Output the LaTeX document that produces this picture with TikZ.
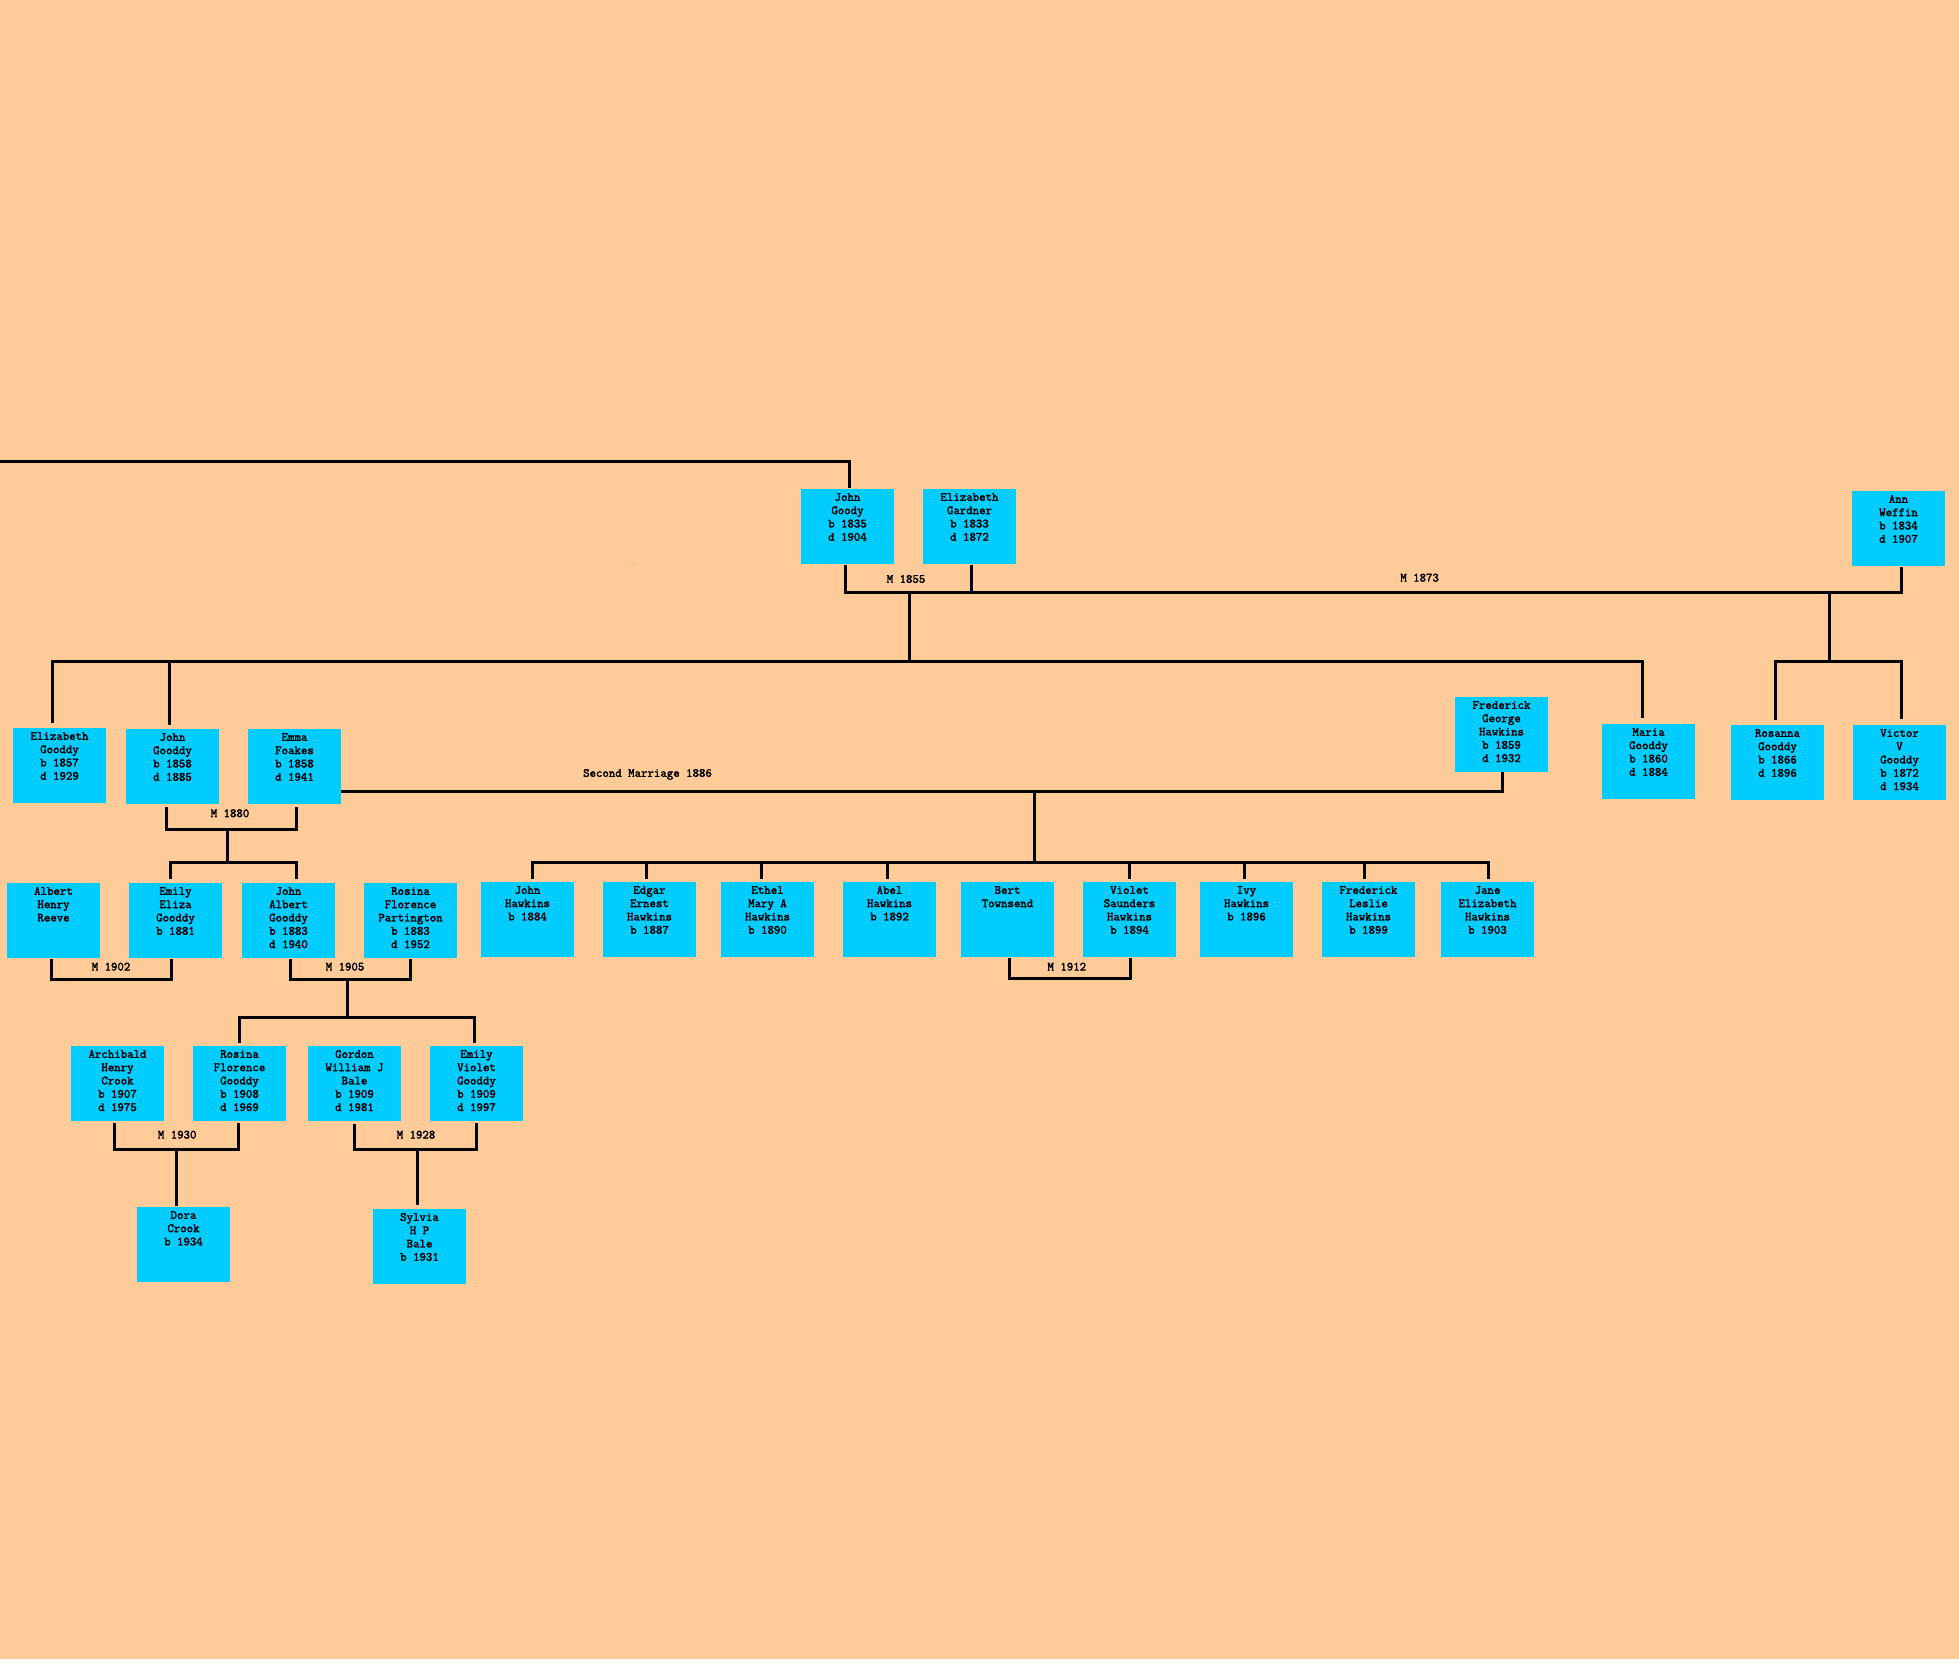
\documentclass[tikz,border=0pt]{standalone}
\usepackage{fontspec}
\newfontfamily\pfam{Latin Modern Mono}[FakeBold=2.2]
\usetikzlibrary{calc}
\definecolor{peach}{RGB}{255,204,153}
\definecolor{boxcyan}{RGB}{0,204,255}
\newcommand\pfont{\pfam\fontsize{12.5}{13.3}\selectfont}
\newcommand\pbox[1]{\parbox[t][74.5pt][t]{93pt}{\centering\vspace*{2.5pt}\strut#1\par}}
\tikzset{
  person/.style={fill=boxcyan, anchor=north west, inner sep=0pt, outer sep=0pt, font=\pfont},
  conn/.style={line width=3pt, line join=miter},
  mlabel/.style={anchor=base, inner sep=0pt, font=\pfont},
}
\begin{document}
\begin{tikzpicture}[x=1pt,y=-1pt]
\useasboundingbox (0,0) rectangle (1959,1666);
\fill[white] (0,0) rectangle (1959,1666);
\fill[peach] (0,0) rectangle (1959,1659);
\fill[boxcyan] (632.8,562.6) rectangle (634.2,564);

% row 1
\node[person] (jg) at (801,489) {\pbox{John\\Goody\\b 1835\\d 1904}};
\node[person] (eg) at (923,489) {\pbox{Elizabeth\\Gardner\\b 1833\\d 1872}};
\node[person] (aw) at (1852,491) {\pbox{Ann\\Weffin\\b 1834\\d 1907}};
% row 2
\node[person] (elg) at (13,728) {\pbox{Elizabeth\\Gooddy\\b 1857\\d 1929}};
\node[person] (jgy) at (126,729) {\pbox{John\\Gooddy\\b 1858\\d 1885}};
\node[person] (ef) at (248,729) {\pbox{Emma\\Foakes\\b 1858\\d 1941}};
\node[person] (fgh) at (1455,697) {\pbox{Frederick\\George\\Hawkins\\b 1859\\d 1932}};
\node[person] (mg) at (1602,724) {\pbox{Maria\\Gooddy\\b 1860\\d 1884}};
\node[person] (rg) at (1731,725) {\pbox{Rosanna\\Gooddy\\b 1866\\d 1896}};
\node[person] (vg) at (1853,725) {\pbox{Victor\\V\\Gooddy\\b 1872\\d 1934}};
% row 3
\node[person] (ahr) at (7,883) {\pbox{Albert\\Henry\\Reeve}};
\node[person] (eeg) at (129,883) {\pbox{Emily\\Eliza\\Gooddy\\b 1881}};
\node[person] (jag) at (242,883) {\pbox{John\\Albert\\Gooddy\\b 1883\\d 1940}};
\node[person] (rfp) at (364,883) {\pbox{Rosina\\Florence\\Partington\\b 1883\\d 1952}};
\node[person] (jh) at (481,882) {\pbox{John\\Hawkins\\b 1884}};
\node[person] (eeh) at (603,882) {\pbox{Edgar\\Ernest\\Hawkins\\b 1887}};
\node[person] (emh) at (721,882) {\pbox{Ethel\\Mary A\\Hawkins\\b 1890}};
\node[person] (ah) at (843,882) {\pbox{Abel\\Hawkins\\b 1892}};
\node[person] (bt) at (961,882) {\pbox{Bert\\Townsend}};
\node[person] (vsh) at (1083,882) {\pbox{Violet\\Saunders\\Hawkins\\b 1894}};
\node[person] (ih) at (1200,882) {\pbox{Ivy\\Hawkins\\b 1896}};
\node[person] (flh) at (1322,882) {\pbox{Frederick\\Leslie\\Hawkins\\b 1899}};
\node[person] (jeh) at (1441,882) {\pbox{Jane\\Elizabeth\\Hawkins\\b 1903}};
% row 4
\node[person] (ahc) at (71,1046) {\pbox{Archibald\\Henry\\Crook\\b 1907\\d 1975}};
\node[person] (rfg) at (193,1046) {\pbox{Rosina\\Florence\\Gooddy\\b 1908\\d 1969}};
\node[person] (gwb) at (308,1046) {\pbox{Gordon\\William J\\Bale\\b 1909\\d 1981}};
\node[person] (evg) at (430,1046) {\pbox{Emily\\Violet\\Gooddy\\b 1909\\d 1997}};
% row 5
\node[person] (dc) at (137,1207) {\pbox{Dora\\Crook\\b 1934}};
\node[person] (shb) at (373,1209) {\pbox{Sylvia\\H P\\Bale\\b 1931}};

% labels
\node[mlabel] (l55) at (906,582.8) {M 1855};
\node[mlabel] (l73) at (1419.6,581.5) {M 1873};
\node[mlabel] (l86) at (647.5,776.8) {Second Marriage 1886};
\node[mlabel] (l80) at (230,817.1) {M 1880};
\node[mlabel] (l02) at (111,970.5) {M 1902};
\node[mlabel] (l05) at (345,970.5) {M 1905};
\node[mlabel] (l12) at (1066.8,970.5) {M 1912};
\node[mlabel] (l30) at (177.2,1138.5) {M 1930};
\node[mlabel] (l28) at (416,1138.5) {M 1928};

% coordinates
\coordinate (topL) at (0,461.7);
\coordinate (jg-t) at ($(jg.north)+(2,-1)$);
\coordinate (jg-b) at ($(jg.south)+(-2,1.5)$);
\coordinate (eg-b) at ($(eg.south)+(2,1.5)$);
\coordinate (aw-b) at ($(aw.south)+(3,1.2)$);
\coordinate (j55) at (909,592);
\coordinate (c55) at (909,661);
\coordinate (j73) at (1829.4,592);
\coordinate (c73) at (1829.4,661);
\coordinate (elg-t) at ($(elg.north)+(-7,-5)$);
\coordinate (jgy-t) at ($(jgy.north)+(-3.5,-4)$);
\coordinate (mg-t) at ($(mg.north)+(-6.5,-6)$);
\coordinate (rg-t) at ($(rg.north)+(-2,-5)$);
\coordinate (vg-t) at ($(vg.north)+(2,-6)$);
\coordinate (jgy-b) at ($(jgy.south)+(-6.5,3)$);
\coordinate (ef-b) at ($(ef.south)+(2.2,3)$);
\coordinate (j80) at (227,829);
\coordinate (c80) at (227,862);
\coordinate (eeg-t) at ($(eeg.north)+(-5.5,-4)$);
\coordinate (jag-t) at ($(jag.north)+(8,-4)$);
\coordinate (sm-s) at ($(ef.south east)+(0,-12.5)$);
\coordinate (fgh-b) at ($(fgh.south)+(1.2,0.5)$);
\coordinate (j86) at (1034.7,791);
\coordinate (c86) at (1034.7,862);
\coordinate (jh-t) at ($(jh.north)+(4.5,-3)$);
\coordinate (eeh-t) at ($(eeh.north)+(-3,-3)$);
\coordinate (emh-t) at ($(emh.north)+(-6,-3)$);
\coordinate (ah-t) at ($(ah.north)+(-2,-3)$);
\coordinate (vsh-t) at ($(vsh.north)+(0,-3)$);
\coordinate (ih-t) at ($(ih.north)+(-2.5,-3)$);
\coordinate (flh-t) at ($(flh.north)+(-4,-3)$);
\coordinate (jeh-t) at ($(jeh.north)+(1,-3)$);
\coordinate (ahr-b) at ($(ahr.south)+(-2.5,1)$);
\coordinate (eeg-b) at ($(eeg.south)+(-4,1)$);
\coordinate (m02) at (111,979);
\coordinate (jag-b) at ($(jag.south)+(1.5,1.5)$);
\coordinate (rfp-b) at ($(rfp.south)+(0,1.5)$);
\coordinate (j05) at (347.5,979);
\coordinate (c05) at (347.5,1017);
\coordinate (rfg-t) at ($(rfg.north)+(0,-3)$);
\coordinate (evg-t) at ($(evg.north)+(-2,-3)$);
\coordinate (bt-b) at ($(bt.south)+(2,1.5)$);
\coordinate (vsh-b) at ($(vsh.south)+(0.5,1.5)$);
\coordinate (m12) at (1070,978.7);
\coordinate (ahc-b) at ($(ahc.south)+(-3.5,2)$);
\coordinate (rfg-b) at ($(rfg.south)+(-1.5,2)$);
\coordinate (j30) at (176.4,1149);
\coordinate (dc-t) at ($(dc.north)+(-7,-1)$);
\coordinate (gwb-b) at ($(gwb.south)+(-0.5,3)$);
\coordinate (evg-b) at ($(evg.south)+(0,2.5)$);
\coordinate (j28) at (417.5,1149);
\coordinate (shb-t) at ($(shb.north)+(-2,-4)$);

% connectors
\draw[conn] (topL) -| (jg-t);
\draw[conn] (jg-b) |- (j55) -| (aw-b);
\draw[conn] (eg-b) -- (eg-b |- j55);
\draw[conn] (j55) -- (c55);
\draw[conn] (elg-t) |- (c55) -| (mg-t);
\draw[conn] (jgy-t) -- (jgy-t |- c55);
\draw[conn] (j73) -- (c73);
\draw[conn] (rg-t) |- (c73) -| (vg-t);
\draw[conn] (jgy-b) |- (j80) -| (ef-b);
\draw[conn] (j80) -- (c80);
\draw[conn] (eeg-t) |- (c80) -| (jag-t);
\draw[conn] (sm-s) -| (fgh-b);
\draw[conn] (j86) -- (c86);
\draw[conn] (jh-t) |- (c86) -| (jeh-t);
\foreach \k in {eeh-t,emh-t,ah-t,vsh-t,ih-t,flh-t}
  \draw[conn] (\k) -- (\k |- c86);
\draw[conn] (ahr-b) |- (m02) -| (eeg-b);
\draw[conn] (jag-b) |- (j05) -| (rfp-b);
\draw[conn] (j05) -- (c05);
\draw[conn] (rfg-t) |- (c05) -| (evg-t);
\draw[conn] (bt-b) |- (m12) -| (vsh-b);
\draw[conn] (ahc-b) |- (j30) -| (rfg-b);
\draw[conn] (j30) -- (j30 |- dc-t);
\draw[conn] (gwb-b) |- (j28) -| (evg-b);
\draw[conn] (j28) -- (j28 |- shb-t);
\end{tikzpicture}
\end{document}
